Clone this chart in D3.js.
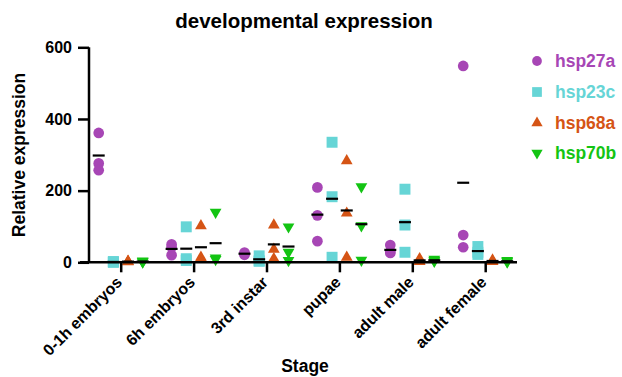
<!DOCTYPE html>
<html lang="en">
<head>
    <meta charset="UTF-8">
    <script src="https://d3js.org/d3.v7.min.js"></script>
    <title>developmental expression</title>
    <style>
        body { margin: 0; padding: 0; background: #fff; }
        svg text { font-family: "Liberation Sans", Arial, sans-serif; font-weight: bold; }
    </style>
</head>
<body>
    <div id="chart"></div>
    <script>
        // stages on the x axis
        var stages = ["0-1h embryos", "6h embryos", "3rd instar", "pupae", "adult male", "adult female"];
        var genes = ["hsp27a", "hsp23c", "hsp68a", "hsp70b"];
        var colors = ["#a746b5", "#66d5d6", "#d55415", "#13c413"];
        var yTicks = [0, 200, 400, 600];

        // replicate values per stage
        var hsp27a = [[361, 276, 257], [50, 42, 20], [21, 24, 27], [209, 131, 59], [48, 30, 26], [548, 76, 42]];
        var hsp23c = [[2, 1, 0], [99, 10, 5], [18, 4, 3], [335, 183, 14], [204, 104, 28], [44, 28, 22]];
        var hsp68a = [[3, 2, 1], [102, 14, 10], [104, 36, 10], [283, 137, 14], [10, 4, 2], [6, 3, 2]];
        var hsp70b = [[4, 2, 1], [140, 12, 8], [99, 28, 5], [211, 102, 6], [9, 5, 3], [5, 3, 1]];
        var seriesValues = [hsp27a, hsp23c, hsp68a, hsp70b];

        var W = 622, H = 377;
        var svg = d3.select("#chart").append("svg")
            .attr("width", W).attr("height", H);

        var x = d3.scalePoint().domain(stages).range([120.7, 485.2]);
        var y = d3.scaleLinear().domain([0, 600]).range([262.3, 47.3]);
        var off = d3.scalePoint().domain(genes).range([-22, 22]);

        // title
        svg.append("text").attr("x", 304).attr("y", 28)
            .attr("text-anchor", "middle").style("font-size", "20.5px")
            .text("developmental expression");

        // points
        var symbols = [d3.symbolCircle, d3.symbolSquare, d3.symbolTriangle, d3.symbolTriangle];
        var sizes = [90, 120, 60, 60];
        genes.forEach(function (g, gi) {
            var pts = [];
            seriesValues[gi].forEach(function (vals, si) {
                vals.forEach(function (v) { pts.push({ stage: stages[si], v: v }); });
            });
            svg.append("g").selectAll("path")
                .data(pts)
                .enter().append("path")
                .attr("d", d3.symbol().type(symbols[gi]).size(sizes[gi]))
                .attr("transform", function (d) {
                    return "translate(" + (x(d.stage) + off(g)) + "," + y(d.v) + ")" + (gi == 3 ? " rotate(180)" : "");
                })
                .attr("fill", colors[gi]);

            // mean lines
            svg.append("g").selectAll("line")
                .data(seriesValues[gi])
                .enter().append("line")
                .attr("x1", function (d, i) { return x(stages[i]) + off(g) - 6; })
                .attr("x2", function (d, i) { return x(stages[i]) + off(g) + 6; })
                .attr("y1", function (d) { return y(d3.mean(d)); })
                .attr("y2", function (d) { return y(d3.mean(d)); })
                .attr("stroke", "#000").attr("stroke-width", 2.2);
        });

        // y axis
        var yAxis = svg.append("g").attr("transform", "translate(89,0)")
            .call(d3.axisLeft(y).tickValues(yTicks).tickSize(11).tickPadding(6));
        yAxis.select(".domain").attr("stroke-width", 2.5).attr("d", "M0," + y(600) + "V" + y(0));
        yAxis.selectAll(".tick line").attr("stroke-width", 2.5);
        yAxis.selectAll("text").style("font-size", "16px").attr("fill", "#000");

        // x axis
        var xAxis = svg.append("g").attr("transform", "translate(0," + y(0) + ")")
            .call(d3.axisBottom(x).tickSize(10).tickPadding(6));
        xAxis.select(".domain").attr("stroke-width", 2.5).attr("d", "M80,0H517");
        xAxis.selectAll(".tick line").attr("stroke-width", 2.5);
        xAxis.selectAll("text")
            .style("font-size", "16px").attr("fill", "#000")
            .attr("text-anchor", "end")
            .attr("dy", "0.35em")
            .attr("transform", "translate(-2,17) rotate(-45)")
            .attr("y", 0).attr("x", 0);

        // axis titles
        svg.append("text").attr("x", 305).attr("y", 372)
            .attr("text-anchor", "middle").style("font-size", "17.5px").text("Stage");
        svg.append("text")
            .attr("transform", "translate(25,155) rotate(-90)")
            .attr("text-anchor", "middle").style("font-size", "17.5px").text("Relative expression");

        // legend
        var legY = [61, 92, 123, 153];
        var legSizes = [75, 95, 55, 55];
        genes.forEach(function (g, gi) {
            svg.append("path")
                .attr("d", d3.symbol().type(symbols[gi]).size(legSizes[gi]))
                .attr("transform", "translate(537," + legY[gi] + ")" + (gi == 3 ? " rotate(180)" : ""))
                .attr("fill", colors[gi]);
            svg.append("text").attr("x", 555).attr("y", legY[gi]).attr("dy", "0.35em")
                .style("font-size", "17.5px").attr("fill", colors[gi]).text(g);
        });
    </script>
</body>
</html>
